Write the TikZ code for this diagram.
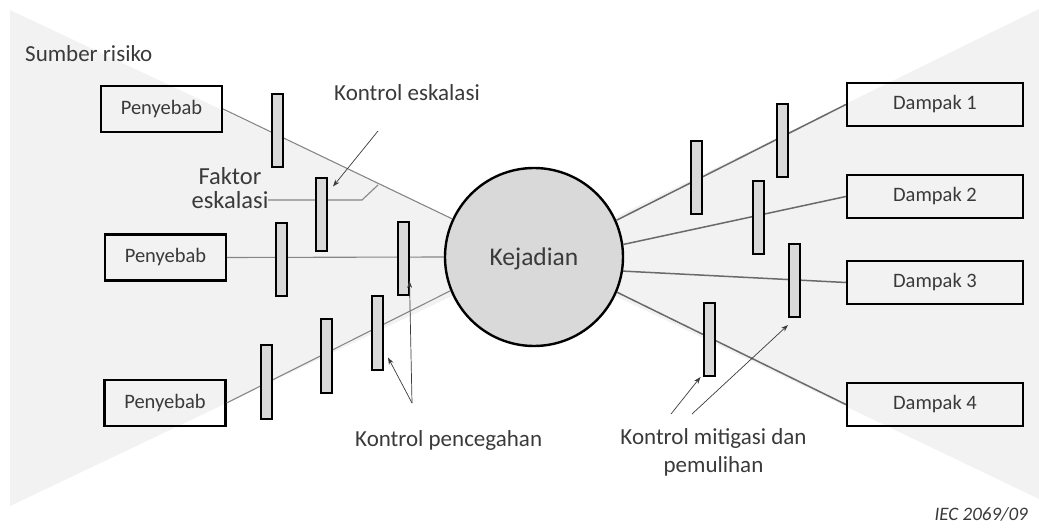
\documentclass[tikz,border=0pt]{standalone}
\usepackage{fontspec}
\setmainfont{Carlito}
\usetikzlibrary{arrows.meta,calc}
\definecolor{bowtie}{HTML}{F2F2F2}
\definecolor{barfill}{HTML}{D9D9D9}
\definecolor{eventfill}{HTML}{D9D9D9}
\definecolor{ink}{HTML}{3A3A3A}
\definecolor{leftline}{HTML}{868686}
\definecolor{rightline}{HTML}{6A6A6A}

\begin{document}
\begin{tikzpicture}[x=1pt,y=-1pt,
  cause/.style={draw=black,line width=2.2pt,minimum width=121pt,minimum height=46pt,
    inner sep=0pt,font=\fontsize{20.5}{24}\selectfont,text=ink},
  effect/.style={cause,minimum width=176pt,minimum height=43pt},
  barrier/.style={draw=black,fill=barfill,line width=2pt,minimum width=11pt,
    minimum height=73pt,inner sep=0pt},
  link/.style={draw=leftline,line width=1.1pt},
  rlink/.style={draw=rightline,line width=1.5pt},
  pointer/.style={draw=ink,line width=0.7pt,-{Stealth[length=7pt,width=5pt]}},
  label/.style={font=\fontsize{23}{28}\selectfont,text=ink,inner sep=0pt}
]
\useasboundingbox (0,0) rectangle (1039,529);

% bow-tie background
\fill[bowtie] (10,10) -- (534,257) -- (10,506) -- cycle;
\fill[bowtie] (1039,9) -- (534,257) -- (1039,499) -- cycle;

% central event
\node[circle,draw=black,line width=2.4pt,fill=eventfill,minimum size=178pt,inner sep=0pt,
  text depth=0pt,font=\fontsize{25.5}{30}\selectfont,text=ink] (ev) at (534,257) {Kejadian};

% causes and consequences
\node[cause] (p1) at (161.5,109) {Penyebab};
\node[cause] (p2) at (165.5,257.5) {Penyebab};
\node[cause] (p3) at (165,403) {Penyebab};
\node[effect] (d1) at (935,104.5) {Dampak 1};
\node[effect] (d2) at (935,196.5) {Dampak 2};
\node[effect] (d3) at (935,282.5) {Dampak 3};
\node[effect] (d4) at (935,404.5) {Dampak 4};

% paths
\draw[link] (p1.east) -- (ev.155);
\draw[link] (p2.east) -- (ev.180);
\draw[link] (p3.east) -- (ev.202);
\draw[rlink] (ev.24) -- (d1.west);
\draw[rlink] (ev.8) -- (d2.west);
\draw[rlink] (ev.-9) -- (d3.west);
\draw[rlink] (ev.-23) -- (d4.west);

% escalation factor (base anchor sits on the last line)
\node[label,font=\fontsize{24.5}{24}\selectfont,align=center,anchor=base] (fe) at (230,209) {Faktor\\eskalasi};
\coordinate (fstart) at (268,200);
\coordinate (fjoin) at (378,185);
\draw[link] (fstart) -- (362,200) -- (fjoin);

% barriers
\node[barrier] (bA) at (277.5,131) {};
\node[barrier] (bB) at (321.5,215) {};
\node[barrier] (bC) at (281.5,260) {};
\node[barrier] (bD) at (403,258.5) {};
\node[barrier] (bE) at (266,382) {};
\node[barrier] (bF) at (326.5,356) {};
\node[barrier] (bG) at (377.5,333) {};
\node[barrier] (bH) at (696,177.5) {};
\node[barrier] (bI) at (782,140.5) {};
\node[barrier] (bJ) at (758,217.5) {};
\node[barrier] (bK) at (794.5,280.5) {};
\node[barrier] (bL) at (709,339.5) {};

% labels
\node[label,anchor=base west] (src) at (25,62) {Sumber risiko};
\node[label,anchor=base west] (esc) at (334,101) {Kontrol eskalasi};
\node[label,anchor=base west] (prev) at (355,446) {Kontrol pencegahan};
\node[label,align=center,anchor=base] (mit) at (713.5,472) {Kontrol mitigasi dan\\pemulihan};
\node[inner sep=0pt,anchor=base east,font=\fontsize{19}{22}\selectfont\itshape,text=ink] (iec) at (1028,520) {IEC 2069/09};

% pointers
\coordinate (escTail) at (378,131);
\draw[pointer] (escTail) -- ([xshift=5pt,yshift=-9pt]bB.north east);
\coordinate (prevTail) at (412,403);
\draw[pointer] (prevTail) -- ([xshift=4pt,yshift=13pt]bG.south east);
\draw[pointer] (prevTail) -- ([yshift=15pt]bD.south east);
\coordinate (mitTail1) at (671,414);
\draw[pointer] (mitTail1) -- ([xshift=-2pt]bL.south west);
\coordinate (mitTail2) at (692,414);
\draw[pointer] (mitTail2) -- ([yshift=-7pt]bK.south west);
\end{tikzpicture}
\end{document}
